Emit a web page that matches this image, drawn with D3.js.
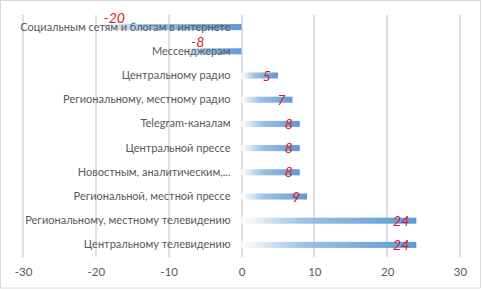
<!DOCTYPE html>
<html>
<head>
<meta charset="utf-8">
<script src="https://cdn.jsdelivr.net/npm/d3@7"></script>
<style>
  html, body { margin: 0; padding: 0; background: #fff; }
  svg { display: block; }
</style>
</head>
<body>
<div id="chart"></div>
<script>
// categories, top to bottom
const categories = [
	'Социальным сетям и блогам в интернете',
	'Мессенджерам',
	'Центральному радио',
	'Региональному, местному радио',
	'Telegram-каналам',
	'Центральной прессе',
	'Новостным, аналитическим,...',
	'Региональной, местной прессе',
	'Региональному, местному телевидению',
	'Центральному телевидению'
];
const values = [-20, -8, 5, 7, 8, 8, 8, 9, 24, 24];
const xTicks = [-30, -20, -10, 0, 10, 20, 30];

const width = 482,
	height = 290,
	margin = {top: 15, right: 22, bottom: 33, left: 23};

const svg = d3.select('#chart')
	.append('svg')
	.attr('width', width)
	.attr('height', height);

// outer frame
svg.append('rect')
	.attr('x', 0.5)
	.attr('y', 0.5)
	.attr('width', width - 2)
	.attr('height', height - 2.5)
	.attr('fill', '#fff')
	.attr('stroke', '#d9d9d9');

// ----------------------------------
// SCALES
// ----------------------------------

const x = d3.scaleLinear()
	.domain([d3.min(xTicks), d3.max(xTicks)])
	.range([margin.left, width - margin.right]);

const y = d3.scaleBand()
	.domain(categories)
	.range([margin.top, height - margin.bottom])
	.paddingInner(0.75)
	.paddingOuter(0.375);

// gradient (white at left end, blue at right)
const defs = svg.append('defs');
const grad = defs.append('linearGradient')
	.attr('id', 'barGrad')
	.attr('x1', 0).attr('x2', 1).attr('y1', 0).attr('y2', 0);
grad.append('stop').attr('offset', 0).attr('stop-color', '#ffffff');
grad.append('stop').attr('offset', 0.35).attr('stop-color', '#9cc2e5');
grad.append('stop').attr('offset', 1).attr('stop-color', '#5b9bd5');

// gridlines
svg.append('g')
	.attr('class', 'grid')
	.selectAll('line')
	.data(xTicks)
	.enter()
	.append('line')
	.attr('x1', d => Math.round(x(d)))
	.attr('x2', d => Math.round(x(d)))
	.attr('y1', margin.top)
	.attr('y2', height - margin.bottom)
	.attr('stroke', '#d9d9d9')
	.attr('stroke-width', 1.6);

// x axis labels
const xAxis = d3.axisBottom(x)
	.tickValues(xTicks)
	.tickFormat(d => String(d))
	.tickSize(0)
	.tickPadding(11);

svg.append('g')
	.attr('transform', `translate(0,${height - margin.bottom})`)
	.call(xAxis)
	.call(g => g.select('.domain').remove())
	.selectAll('text')
	.style('font-family', 'Lato, sans-serif')
	.style('font-size', '11.5px')
	.style('fill', '#595959');

// bars
svg.append('g')
	.selectAll('rect')
	.data(values)
	.enter()
	.append('rect')
	.attr('x', d => x(Math.min(0, d)))
	.attr('y', (d, i) => y(categories[i]))
	.attr('width', d => Math.abs(x(d) - x(0)))
	.attr('height', y.bandwidth())
	.attr('fill', 'url(#barGrad)');

// category labels
const yAxis = d3.axisLeft(y)
	.tickSize(0)
	.tickPadding(11);

svg.append('g')
	.attr('transform', `translate(${x(0)},0)`)
	.call(yAxis)
	.call(g => g.select('.domain').remove())
	.selectAll('text')
	.style('font-family', 'Lato, sans-serif')
	.style('font-size', '11px')
	.style('fill', '#595959');

// value labels
svg.append('g')
	.selectAll('text')
	.data(values)
	.enter()
	.append('text')
	.attr('x', d => d < 0 ? x(d) + 8 : x(d) - 7)
	.attr('y', (d, i) => y(categories[i]) + y.bandwidth() / 2 + (d < 0 ? -4 : 5))
	.attr('text-anchor', d => d < 0 ? 'start' : 'end')
	.style('font-family', 'Lato, sans-serif')
	.style('font-size', '14px')
	.style('font-style', 'italic')
	.style('fill', '#d7191f')
	.text(d => d);
</script>
</body>
</html>
